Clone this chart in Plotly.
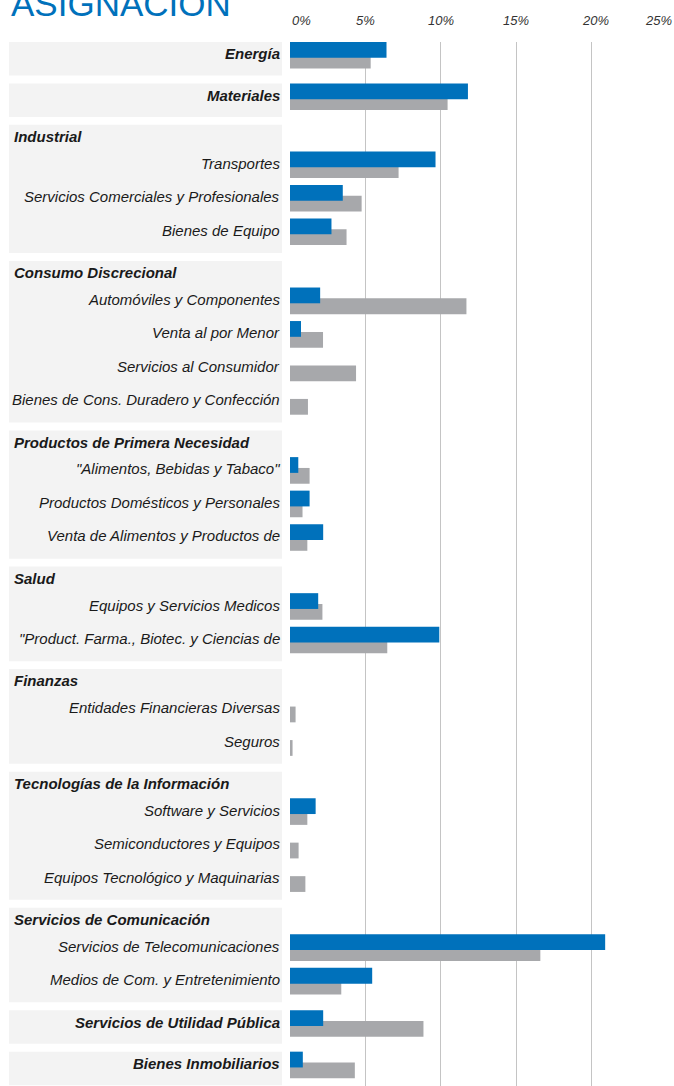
import plotly.graph_objects as go

# ---------------- data ----------------
GROUPS = [
    "Energía", "Materiales", "Industrial", "Consumo Discrecional",
    "Productos de Primera Necesidad", "Salud", "Finanzas",
    "Tecnologías de la Información", "Servicios de Comunicación",
    "Servicios de Utilidad Pública", "Bienes Inmobiliarios",
]
SUBSECTORS = [
    [],
    [],
    ["Transportes", "Servicios Comerciales y Profesionales", "Bienes de Equipo"],
    ["Automóviles y Componentes", "Venta al por Menor", "Servicios al Consumidor",
     "Bienes de Cons. Duradero y Confección"],
    ["\"Alimentos, Bebidas y Tabaco\"", "Productos Domésticos y Personales",
     "Venta de Alimentos y Productos de"],
    ["Equipos y Servicios Medicos", "\"Product. Farma., Biotec. y Ciencias de"],
    ["Entidades Financieras Diversas", "Seguros"],
    ["Software y Servicios", "Semiconductores y Equipos", "Equipos Tecnológico y Maquinarias"],
    ["Servicios de Telecomunicaciones", "Medios de Com. y Entretenimiento"],
    [],
    [],
]
# one value per bar row (group without sub-sectors, or sub-sector), in order
FUND = [6.4, 11.8, 9.65, 3.5, 2.75, 2.0, 0.73, 0.0, 0.0, 0.55, 1.3, 2.2,
        1.87, 9.9, 0.0, 0.0, 1.7, 0.0, 0.0, 20.9, 5.45, 2.2, 0.85]
BENCH = [5.35, 10.45, 7.2, 4.75, 3.75, 11.7, 2.19, 4.38, 1.19, 1.3, 0.83, 1.15,
         2.15, 6.45, 0.37, 0.17, 1.15, 0.57, 1.02, 16.6, 3.4, 8.85, 4.3]
X_TICKS = [0, 5, 10, 15, 20, 25]
X_TICK_LABELS = ["0%", "5%", "10%", "15%", "20%", "25%"]
TITLE = "ASIGNACIÓN"

# ---------------- style / layout ----------------
BLUE = "#0071BB"
GREY = "#A7A8AB"
BAND = "#F3F3F3"
FONT = "Liberation Sans Narrow, Arial Narrow, Liberation Sans, Arial, sans-serif"
W, H = 674, 1086
ML, MR, MT, MB = 290, 7, 42, 0
PW = W - ML - MR
PH = H - MT - MB

ROW = 34        # pitch of a bar row (units)
HEAD = 27       # band top -> first bar top in a group with header
GAP = 8         # gap between bands
BAR_W = 16
GREY_OFF = 11

bar_pos, bar_lab, bar_bold = [], [], []
bands, headers = [], []
pos = 0
for g, subs in zip(GROUPS, SUBSECTORS):
    top = pos
    if subs:
        headers.append((g, top))
        p = top + HEAD
        for s in subs:
            bar_pos.append(p); bar_lab.append(s); bar_bold.append(False)
            p += ROW
        height = HEAD + ROW * len(subs) + 1
    else:
        bar_pos.append(top); bar_lab.append(g); bar_bold.append(True)
        height = ROW
    bands.append((top, top + height))
    pos = top + height + GAP

Y_SCALE = 0.986   # px per unit
y_max = PH / Y_SCALE

def px_to_paper_x(px):
    return (px - ML) / PW

def px_to_paper_y(py):
    return 1 - (py - MT) / PH

fig = go.Figure()
fig.add_trace(go.Bar(
    y=bar_pos, x=BENCH, orientation="h", marker=dict(color=GREY, line=dict(width=0)),
    width=BAR_W, offset=GREY_OFF, name="Índice", hoverinfo="x",
))
fig.add_trace(go.Bar(
    y=bar_pos, x=FUND, orientation="h", marker=dict(color=BLUE, line=dict(width=0)),
    width=BAR_W, offset=0, name="Fondo", hoverinfo="x",
))

shapes = []
for (b0, b1) in bands:
    shapes.append(dict(type="rect", xref="paper", yref="y",
                       x0=px_to_paper_x(9), x1=px_to_paper_x(282), y0=b0, y1=b1,
                       fillcolor=BAND, line=dict(width=0), layer="below"))

LABEL_SIZE = 15
annotations = []
for lab, p, bold in zip(bar_lab, bar_pos, bar_bold):
    annotations.append(dict(
        xref="paper", yref="y", x=px_to_paper_x(282), y=p + 12,
        xanchor="right", yanchor="middle", showarrow=False,
        text=f"<b><i>{lab}</i></b>" if bold else f"<i>{lab}</i>",
        font=dict(family=FONT, size=LABEL_SIZE, color="#1a1a1a"),
    ))
for lab, top in headers:
    annotations.append(dict(
        xref="paper", yref="y", x=px_to_paper_x(12), y=top + 12,
        xanchor="left", yanchor="middle", showarrow=False,
        text=f"<b><i>{lab}</i></b>",
        font=dict(family=FONT, size=LABEL_SIZE, color="#1a1a1a"),
    ))
for i, (tv, tl) in enumerate(zip(X_TICKS, X_TICK_LABELS)):
    last = i == len(X_TICKS) - 1
    anchor = "left" if i == 0 else ("right" if last else "center")
    annotations.append(dict(
        xref="x", yref="paper", x=tv, y=px_to_paper_y(21),
        xanchor=anchor, yanchor="middle", showarrow=False,
        xshift=7 if last else (4 if i == 4 else 0),
        text=f"<i>{tl}</i>",
        font=dict(family=FONT, size=13, color="#333333"),
    ))
annotations.append(dict(
    xref="paper", yref="paper", x=px_to_paper_x(9), y=px_to_paper_y(4),
    xanchor="left", yanchor="middle", showarrow=False,
    text=TITLE, font=dict(family=FONT, size=35, color=BLUE),
))

fig.update_layout(
    width=W, height=H,
    margin=dict(l=ML, r=MR, t=MT, b=MB, pad=0),
    paper_bgcolor="white", plot_bgcolor="white",
    barmode="overlay", showlegend=False,
    shapes=shapes, annotations=annotations,
    xaxis=dict(range=[0, 25], tickvals=X_TICKS, showticklabels=False,
               showgrid=True, gridcolor="#C4C4C4", gridwidth=1,
               zeroline=False, showline=False, fixedrange=True),
    yaxis=dict(range=[y_max, 0], showticklabels=False, showgrid=False,
               zeroline=False, showline=False, fixedrange=True),
)

fig.write_html("out.html", config={"displayModeBar": False},
               post_script="document.body.style.margin='0px';")
